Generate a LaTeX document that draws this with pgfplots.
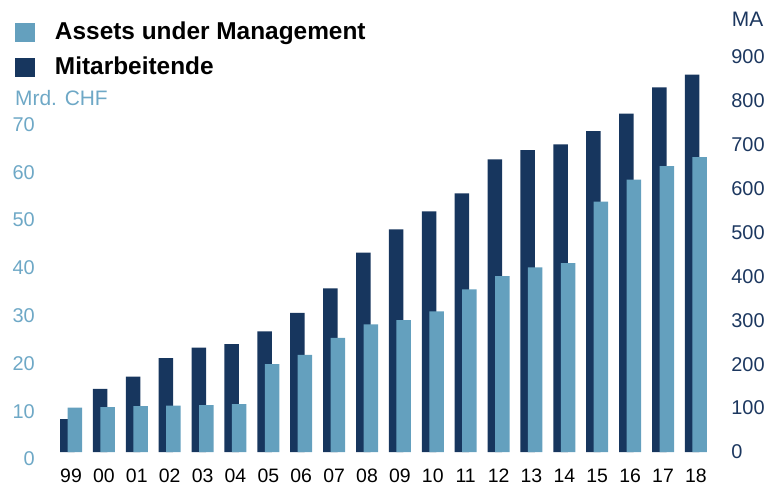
\documentclass[border=0pt]{standalone}
\usepackage{fontspec}
\setmainfont{Liberation Sans}
\usepackage{pgfplots}
\pgfplotsset{compat=1.18}
\usepackage{pgfplotstable}
\definecolor{navy}{RGB}{23,54,94}
\definecolor{lblue}{RGB}{100,160,190}
\definecolor{ltext}{RGB}{110,168,198}
\definecolor{rtext}{RGB}{28,55,95}
\pgfplotstableread{
x aum ma
0 9.3 75
1 9.4 144
2 9.6 172
3 9.7 214
4 9.8 238
5 10.0 246
6 18.4 275
7 20.3 317
8 23.9 373
9 26.7 454
10 27.6 507
11 29.4 548
12 34.0 589
13 36.8 667
14 38.6 688
15 39.5 701
16 52.4 731
17 57.0 771
18 59.8 831
19 61.7 860
}\data
\pgfplotsset{common/.style={scale only axis, width=677.5bp, height=395bp,
  xmin=-0.8, xmax=19.8, /pgf/number format/assume math mode=true,
  major tick length=0pt, tick style={draw=none}, axis line style={draw=none}, clip=false}}
\begin{document}
\begin{tikzpicture}
\useasboundingbox (-44.7bp,-35bp) rectangle (725.3bp,452bp);
\begin{axis}[common, ymin=0, ymax=900, axis y line*=right, hide x axis,
  ytick={0,100,...,900},
  yticklabel style={anchor=west, inner sep=0pt, xshift=9bp, text=rtext, font=\fontsize{20}{24}\selectfont}]
\addplot[ybar, bar width=14.5bp, bar shift=-3.75bp, fill=navy, draw=none] table[x=x,y=ma]{\data};
\node[anchor=west, inner sep=0pt, text=rtext, font=\fontsize{21}{24}\selectfont] at (rel axis cs:1,1) [xshift=9.5bp, yshift=38bp] {MA};
\end{axis}
\begin{axis}[common, ymin=0, ymax=82.64, axis y line*=left, axis x line*=bottom,
  xtick={0,...,19},
  xticklabels={99,00,01,02,03,04,05,06,07,08,09,10,11,12,13,14,15,16,17,18},
  xticklabel style={anchor=north, inner sep=0pt, yshift=-17bp, text=black, font=\fontsize{19.5}{24}\selectfont},
  ytick={0,10,...,70},
  yticklabel style={anchor=east, inner sep=0pt, xshift=-9.7bp, yshift=-7bp, text=ltext, font=\fontsize{20}{24}\selectfont},
  legend image code/.code={\fill[#1] (0bp,-9.5bp) rectangle (20bp,9.5bp);},
  legend cell align=left,
  legend style={at={(rel axis cs:0,1)}, anchor=north west, xshift=-29.7bp, yshift=35.6bp,
    draw=none, fill=none, inner sep=0pt, outer sep=0pt,
    /tikz/row sep=12bp, /tikz/column sep=20bp,
    font=\fontsize{24.5}{28}\selectfont\bfseries,
    nodes={inner sep=0pt, text height=18bp, text depth=5bp}}]
\addlegendimage{fill=lblue, draw=none}
\addlegendentry{Assets under Management}
\addlegendimage{fill=navy, draw=none}
\addlegendentry{Mitarbeitende}
\addplot[ybar, bar width=14.5bp, bar shift=3.75bp, fill=lblue, draw=none, forget plot] table[x=x,y=aum]{\data};
\node[anchor=west, inner sep=0pt, text=ltext, font=\fontsize{21}{24}\selectfont] at (rel axis cs:0,1) [xshift=-29.7bp, yshift=-41bp] {Mrd. CHF};
\end{axis}
\end{tikzpicture}
\end{document}
